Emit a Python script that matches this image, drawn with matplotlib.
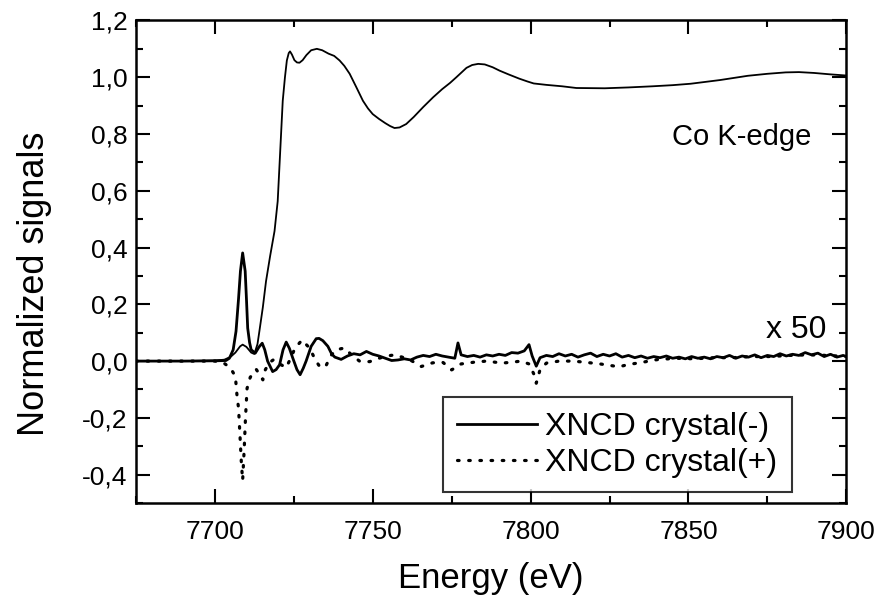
import numpy as np
import matplotlib
matplotlib.use("Agg")
import matplotlib.pyplot as plt
from matplotlib.ticker import MultipleLocator, FuncFormatter

plt.rcParams['font.family'] = ['Liberation Sans', 'DejaVu Sans']

# Co K-edge absorption (thin line)
e_xas = [7675, 7690, 7700, 7703, 7705, 7706.5, 7708, 7708.8, 7710, 7711.5, 7712.5, 7713.5,
         7714.1, 7715.2, 7716.2, 7717.5, 7718.9, 7719.9, 7720.7, 7721.5, 7722.2, 7722.8,
         7723.4, 7723.8, 7724.4, 7725.2, 7726, 7726.8, 7727.8, 7729, 7730.5, 7732.3, 7734,
         7736, 7737.8, 7739.5, 7741, 7742.7, 7744.8, 7746.9, 7748.5, 7750, 7752, 7754,
         7755.5, 7756.9, 7758.5, 7760.6, 7763, 7766, 7769.1, 7772, 7774.5, 7776.5, 7779.7,
         7781.5, 7783.4, 7785.5, 7788, 7790.2, 7793, 7796.4, 7799, 7801, 7805, 7810,
         7814.5, 7823.5, 7831, 7838.6, 7845, 7850.7, 7860, 7868.8, 7875, 7880.8, 7885,
         7889.8, 7895, 7900]
y_xas = [0.0, 0.0, 0.002, 0.005, 0.015, 0.03, 0.052, 0.058, 0.05, 0.03, 0.025, 0.06,
         0.105, 0.19, 0.281, 0.37, 0.458, 0.563, 0.74, 0.917, 1.0, 1.059,
         1.085, 1.091, 1.08, 1.06, 1.052, 1.051, 1.06, 1.078, 1.095, 1.10, 1.095,
         1.083, 1.075, 1.059, 1.04, 1.012, 0.965, 0.917, 0.89, 0.87, 0.853, 0.838,
         0.828, 0.821, 0.823, 0.835, 0.86, 0.895, 0.929, 0.958, 0.98, 1.0, 1.033,
         1.043, 1.047, 1.045, 1.035, 1.023, 1.01, 0.995, 0.985, 0.978, 0.973, 0.968,
         0.962, 0.961, 0.964, 0.968, 0.972, 0.977, 0.99, 1.005, 1.012, 1.017, 1.018,
         1.015, 1.01, 1.006]

# XNCD crystal(-), x 50 (thick solid)
e_minus = [7675, 7690, 7700, 7703.5, 7704.6, 7705.8, 7706.7, 7707.5, 7708.1, 7708.8,
           7709.6, 7710, 7710.4, 7711, 7711.5, 7712.8, 7714, 7715, 7715.8, 7716.7,
           7718.3, 7719.4, 7720.5, 7721.6, 7722.6, 7723.6, 7724.7, 7726, 7727, 7728,
           7728.9, 7730.5, 7732.1, 7733, 7734.2, 7735.8, 7737,
           7738, 7740, 7742, 7744, 7746, 7748, 7750, 7752, 7754, 7756, 7758, 7760,
           7762, 7764, 7766, 7768, 7770, 7772, 7774, 7776, 7777, 7778, 7780, 7782,
           7784, 7786, 7788, 7790, 7792, 7794, 7796, 7798, 7799.5, 7800.5, 7801.8,
           7803, 7805, 7807, 7809, 7811, 7813, 7815, 7817, 7819, 7821, 7823, 7825,
           7827, 7829, 7831, 7833, 7835, 7837, 7839, 7841, 7843, 7845, 7847, 7849,
           7851, 7853, 7855, 7857, 7859, 7861, 7863, 7865, 7867, 7869, 7871, 7873,
           7875, 7877, 7879, 7881, 7883, 7885, 7887, 7889, 7891, 7893, 7895, 7897,
           7899, 7900]
y_minus = [0.0, 0.0, 0.001, 0.002, 0.01, 0.04, 0.105, 0.22, 0.317, 0.381,
           0.317, 0.22, 0.116, 0.065, 0.04, 0.028, 0.05, 0.063, 0.04, 0.0,
           -0.037, -0.03, -0.013, 0.04, 0.067, 0.045, 0.01, -0.03, -0.048, -0.025,
           0.0, 0.052, 0.079, 0.08, 0.072, 0.052, 0.025,
           0.014, 0.006, 0.018, 0.026, 0.022, 0.034, 0.024, 0.018, 0.010, 0.002, 0.004, 0.008,
           0.004, 0.014, 0.020, 0.016, 0.024, 0.018, 0.014, 0.010, 0.064, 0.022, 0.016, 0.020,
           0.014, 0.022, 0.018, 0.024, 0.020, 0.030, 0.028, 0.036, 0.058, 0.018, -0.018,
           0.012, 0.020, 0.016, 0.026, 0.018, 0.024, 0.014, 0.022, 0.028, 0.016, 0.024, 0.018,
           0.026, 0.014, 0.020, 0.012, 0.018, 0.010, 0.016, 0.012, 0.018, 0.010, 0.014, 0.008,
           0.016, 0.010, 0.014, 0.008, 0.016, 0.012, 0.020, 0.010, 0.018, 0.014, 0.022, 0.012,
           0.020, 0.016, 0.026, 0.018, 0.024, 0.020, 0.030, 0.022, 0.028, 0.016, 0.024, 0.014,
           0.020, 0.016]

# XNCD crystal(+), x 50 (dotted)
e_plus = [7675, 7690, 7700, 7702.5, 7704.3, 7705.5, 7706.5, 7707, 7707.5, 7708, 7708.4,
          7708.8, 7709.3, 7709.7, 7710.2, 7711.2, 7713.1, 7714.3, 7715.2, 7716, 7717.3,
          7718.6, 7720.5, 7722.6, 7724, 7725.4, 7727.6, 7730, 7731.8, 7733.4, 7735.3,
          7736.8, 7738.4, 7741, 7743.5, 7745.8, 7749, 7752, 7754.5, 7757, 7759.6, 7762.5,
          7765.4, 7769, 7772.3, 7775, 7778, 7782, 7786, 7791, 7794, 7797, 7799.5, 7801,
          7801.8, 7803, 7805, 7809, 7813.5, 7818, 7822, 7828, 7831, 7835, 7840, 7846,
          7852, 7858, 7864, 7870, 7876, 7882, 7888, 7894, 7900]
y_plus = [0.0, 0.0, 0.0, -0.004, -0.019, -0.035, -0.054, -0.12, -0.166, -0.272, -0.36,
          -0.42, -0.308, -0.2, -0.096, -0.057, -0.029, -0.05, -0.066, -0.03, -0.005,
          0.005, -0.01, -0.023, 0.01, 0.046, 0.074, 0.046, 0.005, -0.023, -0.014,
          0.02, 0.04, 0.046, 0.02, 0.0, -0.002, 0.01, 0.018, 0.022, 0.013, 0.0,
          -0.019, -0.006, -0.005, -0.031, -0.01, -0.004, 0.0, -0.007, -0.004, 0.0, -0.01, -0.045,
          -0.078, -0.03, -0.007, 0.0, 0.0, -0.005, -0.01, -0.02, -0.012, -0.005, 0.005, 0.01,
          0.008, 0.012, 0.012, 0.016, 0.016, 0.02, 0.022, 0.02, 0.016]

fig = plt.figure(figsize=(8.77, 6.01), dpi=100)
ax = fig.add_axes([0.155, 0.163, 0.81, 0.803])

ax.plot(e_xas, y_xas, color='black', lw=1.3)
ax.plot(e_minus, y_minus, color='black', lw=2.0, label='XNCD crystal(-)')
ax.plot(e_plus, y_plus, color='black', lw=2.3, linestyle=(0, (0.5, 3.0)),
        dash_capstyle='round', label='XNCD crystal(+)')

ax.set_xlim(7675, 7900)
ax.set_ylim(-0.5, 1.2)

ax.xaxis.set_major_locator(MultipleLocator(50))
ax.xaxis.set_minor_locator(MultipleLocator(25))
ax.yaxis.set_major_locator(MultipleLocator(0.2))
ax.yaxis.set_minor_locator(MultipleLocator(0.1))
ax.yaxis.set_major_formatter(FuncFormatter(lambda v, p: f"{v:.1f}".replace('.', ',')))

ax.tick_params(which='both', direction='in', top=True, right=True, width=1.5)
ax.tick_params(which='major', length=10)
ax.tick_params(which='minor', length=5)
ax.tick_params(axis='x', labelsize=19, pad=12)
ax.tick_params(axis='y', labelsize=19, pad=6)
for s in ax.spines.values():
    s.set_linewidth(1.8)

ax.set_xlabel('Energy (eV)', fontsize=25)
ax.set_ylabel('Normalized signals', fontsize=26)
ax.xaxis.set_label_coords(0.5, -0.123)
ax.yaxis.set_label_coords(-0.118, 0.455)

ax.text(7867, 0.79, 'Co K-edge', fontsize=21, ha='center', va='center')
ax.text(7884, 0.11, 'x 50', fontsize=23, ha='center', va='center')

leg = ax.legend(loc='upper left', bbox_to_anchor=(0.432, 0.219), fontsize=23,
                frameon=True, fancybox=False, edgecolor='black', handlelength=2.5,
                handletextpad=0.25, borderaxespad=0, labelspacing=0.2, borderpad=0.45)
leg.get_frame().set_linewidth(1.5)

fig.savefig('out.png', dpi=100)
